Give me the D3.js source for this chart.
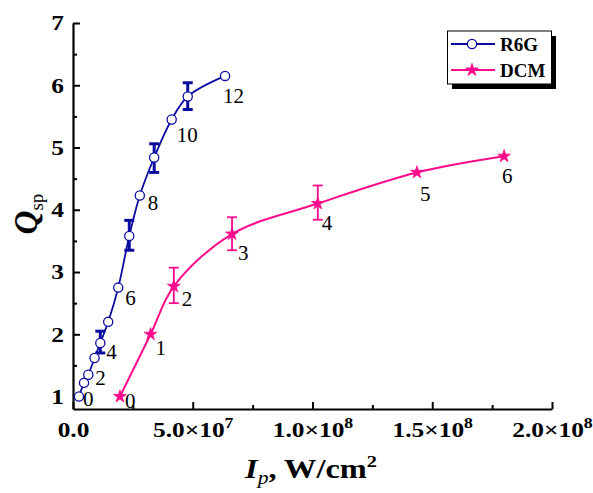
<!DOCTYPE html>
<html>
<head>
<meta charset="utf-8">
<script src="https://cdn.jsdelivr.net/npm/d3@7"></script>
<style>
  body { margin: 0; background: #fff; }
  svg { display: block; }
  text { font-family: "Liberation Serif", "Times New Roman", serif; }
</style>
</head>
<body>
<svg id="chart" width="593" height="493"></svg>
<script>
// ---- data ----
const r6gX = [2.5e6, 4.6e6, 6.4e6, 9.0e6, 11.4e6, 14.7e6, 18.9e6, 23.5e6, 27.9e6, 33.9e6, 41.2e6, 47.9e6, 63.5e6];
const r6gQ = [1.00, 1.22, 1.35, 1.62, 1.86, 2.20, 2.75, 3.58, 4.23, 4.84, 5.45, 5.82, 6.15];
const r6gLabels = ["0", "", "2", "", "4", "", "6", "", "8", "", "10", "", "12"];
const r6gErrIdx = [4, 7, 9, 11];
const r6gErrLo = [1.70, 3.35, 4.60, 5.61];
const r6gErrHi = [2.05, 3.83, 5.06, 6.04];

const dcmX = [19.6e6, 32.4e6, 42.1e6, 66.4e6, 102.2e6, 143.6e6, 180.0e6];
const dcmQ = [1.00, 2.00, 2.77, 3.61, 4.10, 4.60, 4.86];
const dcmLabels = ["0", "1", "2", "3", "4", "5", "6"];
const dcmErrIdx = [2, 3, 4];
const dcmErrLo = [2.50, 3.35, 3.84];
const dcmErrHi = [3.07, 3.88, 4.39];

const xTickValues = [0, 5e7, 1e8, 1.5e8, 2e8];
const xTickMantissa = ["0.0", "5.0\u00D710", "1.0\u00D710", "1.5\u00D710", "2.0\u00D710"];
const xTickExponent = ["", "7", "8", "8", "8"];
const yTickValues = [1, 2, 3, 4, 5, 6, 7];
const seriesNames = ["R6G", "DCM"];

// ---- layout (label offsets in px, not data) ----
const r6gLabelOff = [[4, 9], [0, 0], [7, 10], [0, 0], [6, 16], [0, 0], [7, 17], [0, 0], [8, 15], [0, 0], [5, 22], [0, 0], [-2, 27]];
const dcmLabelOff = [[5, 11], [5, 21], [8, 20], [6, 26], [4, 26], [3, 29], [-2, 27]];

const blue = "#0B0BA0";
const pink = "#FF0A8C";
const stretch = 1.27;

const svg = d3.select("#chart");
const x = d3.scaleLinear().domain([0, 2e8]).range([73, 552]);
const y = d3.scaleLinear().domain([0.8, 7]).range([409, 23]);

// axes
const yAxis = svg.append("g").attr("transform", `translate(${x(0)},0)`)
  .call(d3.axisLeft(y).tickValues(yTickValues).tickSize(-7).tickSizeOuter(0).tickPadding(10).tickFormat(d3.format("d")));
const yMinor = svg.append("g").attr("transform", `translate(${x(0)},0)`)
  .call(d3.axisLeft(y).tickValues(d3.range(1.5, 7, 1)).tickSize(-4).tickSizeOuter(0).tickFormat(""));
const xAxis = svg.append("g").attr("transform", `translate(0,${y(0.8)})`)
  .call(d3.axisBottom(x).tickValues(xTickValues).tickSize(-7).tickSizeOuter(0).tickFormat(""));
const xMinor = svg.append("g").attr("transform", `translate(0,${y(0.8)})`)
  .call(d3.axisBottom(x).tickValues([2.5e7, 7.5e7, 1.25e8, 1.75e8]).tickSize(-4).tickSizeOuter(0).tickFormat(""));

[yAxis, yMinor, xAxis, xMinor].forEach(g => {
  g.selectAll(".domain").attr("stroke", "#000").attr("stroke-width", 2.2);
  g.selectAll(".tick line").attr("stroke", "#000").attr("stroke-width", 2);
});
yMinor.select(".domain").remove();
xMinor.select(".domain").remove();

yAxis.selectAll(".tick text")
  .attr("x", 0).attr("dy", "0.34em")
  .attr("transform", `translate(-9,0) scale(${stretch},1)`)
  .attr("font-size", 20).attr("font-weight", "bold").attr("fill", "#000")
  .attr("font-family", "Liberation Serif");

xAxis.selectAll(".tick").each(function(d, i) {
  const t = d3.select(this).append("text")
    .attr("transform", `translate(0,28) scale(${stretch},1)`).attr("text-anchor", "middle")
    .attr("font-size", 20).attr("font-weight", "bold").attr("fill", "#000");
  t.append("tspan").text(xTickMantissa[i]);
  if (xTickExponent[i]) {
    t.append("tspan").attr("font-size", 14).attr("dy", -9).text(xTickExponent[i]);
  }
});

// axis titles
const xt = svg.append("text").attr("transform", "translate(311,478) scale(1.2,1)").attr("text-anchor", "middle")
  .attr("font-weight", "bold").attr("font-size", 27).attr("fill", "#000");
xt.append("tspan").attr("font-style", "italic").text("I");
xt.append("tspan").attr("font-style", "italic").attr("font-weight", "normal").attr("font-size", 18).attr("dy", 6).text("p");
xt.append("tspan").attr("dy", -6).text(", W/cm");
xt.append("tspan").attr("font-size", 17).attr("dy", -11).text("2");

const yt = svg.append("text").attr("transform", "translate(37,214) rotate(-90)")
  .attr("text-anchor", "middle").attr("font-size", 33).attr("fill", "#000");
yt.append("tspan").attr("font-style", "italic").attr("font-weight", "bold").text("Q");
yt.append("tspan").attr("font-size", 19).attr("dy", 6).text("sp");

// lines
const line = d3.line().curve(d3.curveCatmullRom.alpha(0.5)).x(d => x(d[0])).y(d => y(d[1]));
const r6gPts = r6gX.map((v, i) => [v, r6gQ[i]]);
const dcmPts = dcmX.map((v, i) => [v, dcmQ[i]]);

svg.append("path").attr("d", line(dcmPts)).attr("fill", "none").attr("stroke", pink).attr("stroke-width", 2);
svg.append("path").attr("d", line(r6gPts)).attr("fill", "none").attr("stroke", blue).attr("stroke-width", 1.8);

// error bars
function errBars(idx, lo, hi, xs, color, w) {
  const g = svg.append("g").attr("stroke", color).attr("stroke-width", w).attr("fill", "none");
  idx.forEach((k, j) => {
    const cx = x(xs[k]);
    g.append("line").attr("x1", cx).attr("x2", cx).attr("y1", y(lo[j])).attr("y2", y(hi[j]));
    g.append("line").attr("x1", cx - 5).attr("x2", cx + 5).attr("y1", y(lo[j])).attr("y2", y(lo[j]));
    g.append("line").attr("x1", cx - 5).attr("x2", cx + 5).attr("y1", y(hi[j])).attr("y2", y(hi[j]));
  });
}
errBars(r6gErrIdx, r6gErrLo, r6gErrHi, r6gX, blue, 3);
errBars(dcmErrIdx, dcmErrLo, dcmErrHi, dcmX, pink, 1.8);

// markers
const star = d3.symbol().type(d3.symbolStar).size(50);
svg.append("g").selectAll("path").data(dcmPts).join("path")
  .attr("d", star).attr("transform", d => `translate(${x(d[0])},${y(d[1])})`)
  .attr("fill", pink).attr("stroke", pink).attr("stroke-width", 0.8);
svg.append("g").selectAll("circle").data(r6gPts).join("circle")
  .attr("cx", d => x(d[0])).attr("cy", d => y(d[1])).attr("r", 4.6)
  .attr("fill", "#fff").attr("stroke", blue).attr("stroke-width", 1.3);

// point labels
svg.append("g").selectAll("text").data(r6gPts).join("text")
  .attr("x", (d, i) => x(d[0]) + r6gLabelOff[i][0]).attr("y", (d, i) => y(d[1]) + r6gLabelOff[i][1])
  .attr("font-size", 21).attr("fill", "#000").text((d, i) => r6gLabels[i]);
svg.append("g").selectAll("text").data(dcmPts).join("text")
  .attr("x", (d, i) => x(d[0]) + dcmLabelOff[i][0]).attr("y", (d, i) => y(d[1]) + dcmLabelOff[i][1])
  .attr("font-size", 21).attr("fill", "#000").text((d, i) => dcmLabels[i]);

// legend
const lg = svg.append("g");
lg.append("rect").attr("x", 452).attr("y", 36).attr("width", 104).attr("height", 53).attr("fill", "#000");
lg.append("rect").attr("x", 447.5).attr("y", 31).attr("width", 104).attr("height", 53)
  .attr("fill", "#fff").attr("stroke", "#000").attr("stroke-width", 1);
const ly = [44, 70];
const lc = [blue, pink];
ly.forEach((yy, i) => {
  lg.append("line").attr("x1", 451).attr("x2", 495).attr("y1", yy).attr("y2", yy)
    .attr("stroke", lc[i]).attr("stroke-width", 2);
  lg.append("text").attr("x", 500).attr("y", yy + 7).attr("font-size", 19).attr("font-weight", "bold")
    .attr("fill", "#000").text(seriesNames[i]);
});
lg.append("circle").attr("cx", 472).attr("cy", ly[0]).attr("r", 4.6).attr("fill", "#fff").attr("stroke", blue).attr("stroke-width", 1.3);
lg.append("path").attr("d", star).attr("transform", `translate(472,${ly[1]})`).attr("fill", pink).attr("stroke", pink).attr("stroke-width", 0.8);
</script>
</body>
</html>
